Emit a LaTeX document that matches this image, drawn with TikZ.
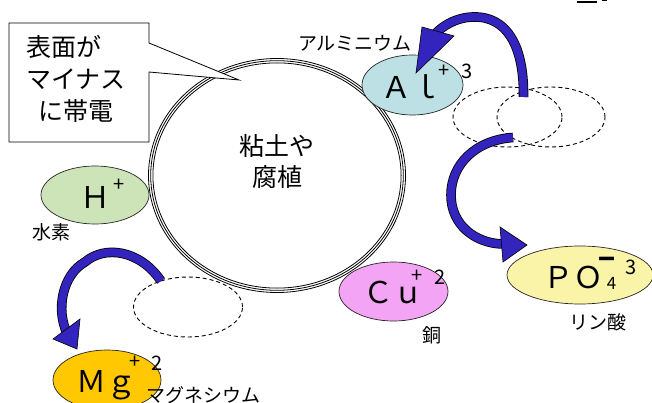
\documentclass[tikz,border=0pt]{standalone}
\usepackage{fontspec}
\setmainfont{Noto Sans CJK JP}
\usetikzlibrary{shapes.geometric}
\definecolor{arrowblue}{RGB}{52,36,190}
\definecolor{alfill}{RGB}{188,224,228}
\definecolor{hfill}{RGB}{205,228,185}
\definecolor{cufill}{RGB}{244,164,244}
\definecolor{pofill}{RGB}{250,244,168}
\definecolor{mgfill}{RGB}{255,200,0}
\tikzset{
  ion/.style={ellipse, draw=black!85, line width=0.7pt, inner sep=0pt},
  dashel/.style={ellipse, draw=black, dash pattern=on 4pt off 3pt, line width=0.9pt, inner sep=0pt},
  lbl/.style={font=\fontsize{19}{22}\selectfont, inner sep=0pt},
  bigtxt/.style={font=\fontsize{25}{30}\selectfont, inner sep=0pt},
  symtxt/.style={font=\fontsize{30}{34}\selectfont, inner sep=0pt, anchor=base},
  suptxt/.style={font=\fontsize{20}{24}\selectfont, inner sep=0pt},
  shaft/.style={line width=0.8pt, double=arrowblue, double distance=8pt},
  headtri/.style={fill=arrowblue, draw=black, line width=0.6pt, line join=miter},
  soilline/.style={draw=black, line width=0.8pt}
}
\begin{document}
\begin{tikzpicture}[x=1pt,y=-1pt]
\useasboundingbox (0,0) rectangle (652,403);
\fill[white] (0,0) rectangle (652,403);

% clipped figure-number mark at top right
\fill[black] (577,1.2) rectangle (597,3);
\fill[black] (602,0) rectangle (607,1);

% soil / humus particle (triple outline)
\node[bigtxt, align=center] (soil) at (277,175.5) {};
\draw[soilline] (soil.center) ellipse [x radius=128.5, y radius=117];
\draw[soilline] (soil.center) ellipse [x radius=126.3, y radius=114.8];
\draw[soilline] (soil.center) ellipse [x radius=124.1, y radius=112.6];
\node[bigtxt] (soil1) at (277,146) {粘土や};
\node[bigtxt] (soil2) at (277,177) {腐植};

% callout
\draw[fill=white, draw=black, line width=0.8pt, line join=miter]
  (9,23) -- (149,23) -- (149,43) -- (239,80) -- (149,72) -- (149,142) -- (9,142) -- cycle;
\node[bigtxt, anchor=west] (c1) at (26,47) {表面が};
\node[bigtxt, anchor=west] (c2) at (26,79) {マイナス};
\node[bigtxt, anchor=west] (c3) at (38,111) {に帯電};

% dashed (vacated) sites
\node[dashel, minimum width=109, minimum height=60] (dA) at (507.5,117) {};
\node[dashel, minimum width=108, minimum height=60] (dB) at (551,117) {};
\node[dashel, minimum width=109, minimum height=60] (dM) at (188,307) {};

% ions
\node[ion, fill=alfill, minimum width=101, minimum height=60] (al) at (412.5,85) {};
\node[symtxt] (alt) at (411,99) {Ａｌ};
\node[suptxt] (alp) at (444,71) {+};
\node[suptxt] (al3) at (467,71) {3};
\node[lbl] (alname) at (355,43) {アルミニウム};

\node[ion, fill=hfill, minimum width=108, minimum height=58] (h) at (95,195) {};
\node[symtxt] (ht) at (95,208) {Ｈ};
\node[suptxt] (hp) at (119,185) {+};
\node[lbl] (hname) at (51,232) {水素};

\node[ion, fill=cufill, minimum width=109, minimum height=59] (cu) at (393.5,291.5) {};
\node[symtxt] (cut) at (393,303) {Ｃｕ};
\node[suptxt] (cup) at (417,276) {+};
\node[suptxt] (cu2) at (440,277) {2};
\node[lbl] (cuname) at (432,335) {銅};

\node[ion, fill=pofill, minimum width=146, minimum height=58] (po) at (580,275) {};
\node[symtxt] (pot) at (573,288) {ＰＯ};
\node[font=\fontsize{28}{30}\selectfont\bfseries, inner sep=0pt] (pom) at (607.5,263) {−};
\node[font=\fontsize{17}{19}\selectfont, inner sep=0pt] (po4) at (611.5,283) {4};
\node[suptxt] (po3) at (631,267) {3};
\node[lbl] (poname) at (598,322) {リン酸};

\node[ion, fill=mgfill, minimum width=108, minimum height=60] (mg) at (107,380) {};
\node[symtxt] (mgt) at (106,392) {Ｍｇ};
\node[suptxt] (mgp) at (135,362) {+};
\node[suptxt] (mg2) at (157,363) {2};
\node[lbl] (mgname) at (203,395) {マグネシウム};

% arrows
\coordinate (alTail) at (523.5,97);
\coordinate (alBase) at (436,33);
\draw[shaft] (alTail) .. controls (524,60) and (515,25) .. (485,18) .. controls (465,14) and (447,22) .. (alBase);
\draw[headtri] (416,73) -- (422,27) -- (454,36) -- cycle;

\coordinate (poTail) at (513,137.5);
\coordinate (poBase) at (502,244);
\draw[shaft] (poTail) .. controls (475,140) and (451,165) .. (451,195) .. controls (451,225) and (475,243) .. (poBase);
\draw[headtri] (500,227) -- (527,245) -- (503,262) -- cycle;

\coordinate (mgTail) at (161,281);
\coordinate (mgBase) at (67,333);
\draw[shaft] (mgTail) .. controls (140,250) and (105,245) .. (85,262) .. controls (62,275) and (56,310) .. (mgBase);
\draw[headtri] (53,339) -- (80,319) -- (77,349) -- cycle;
\end{tikzpicture}
\end{document}
